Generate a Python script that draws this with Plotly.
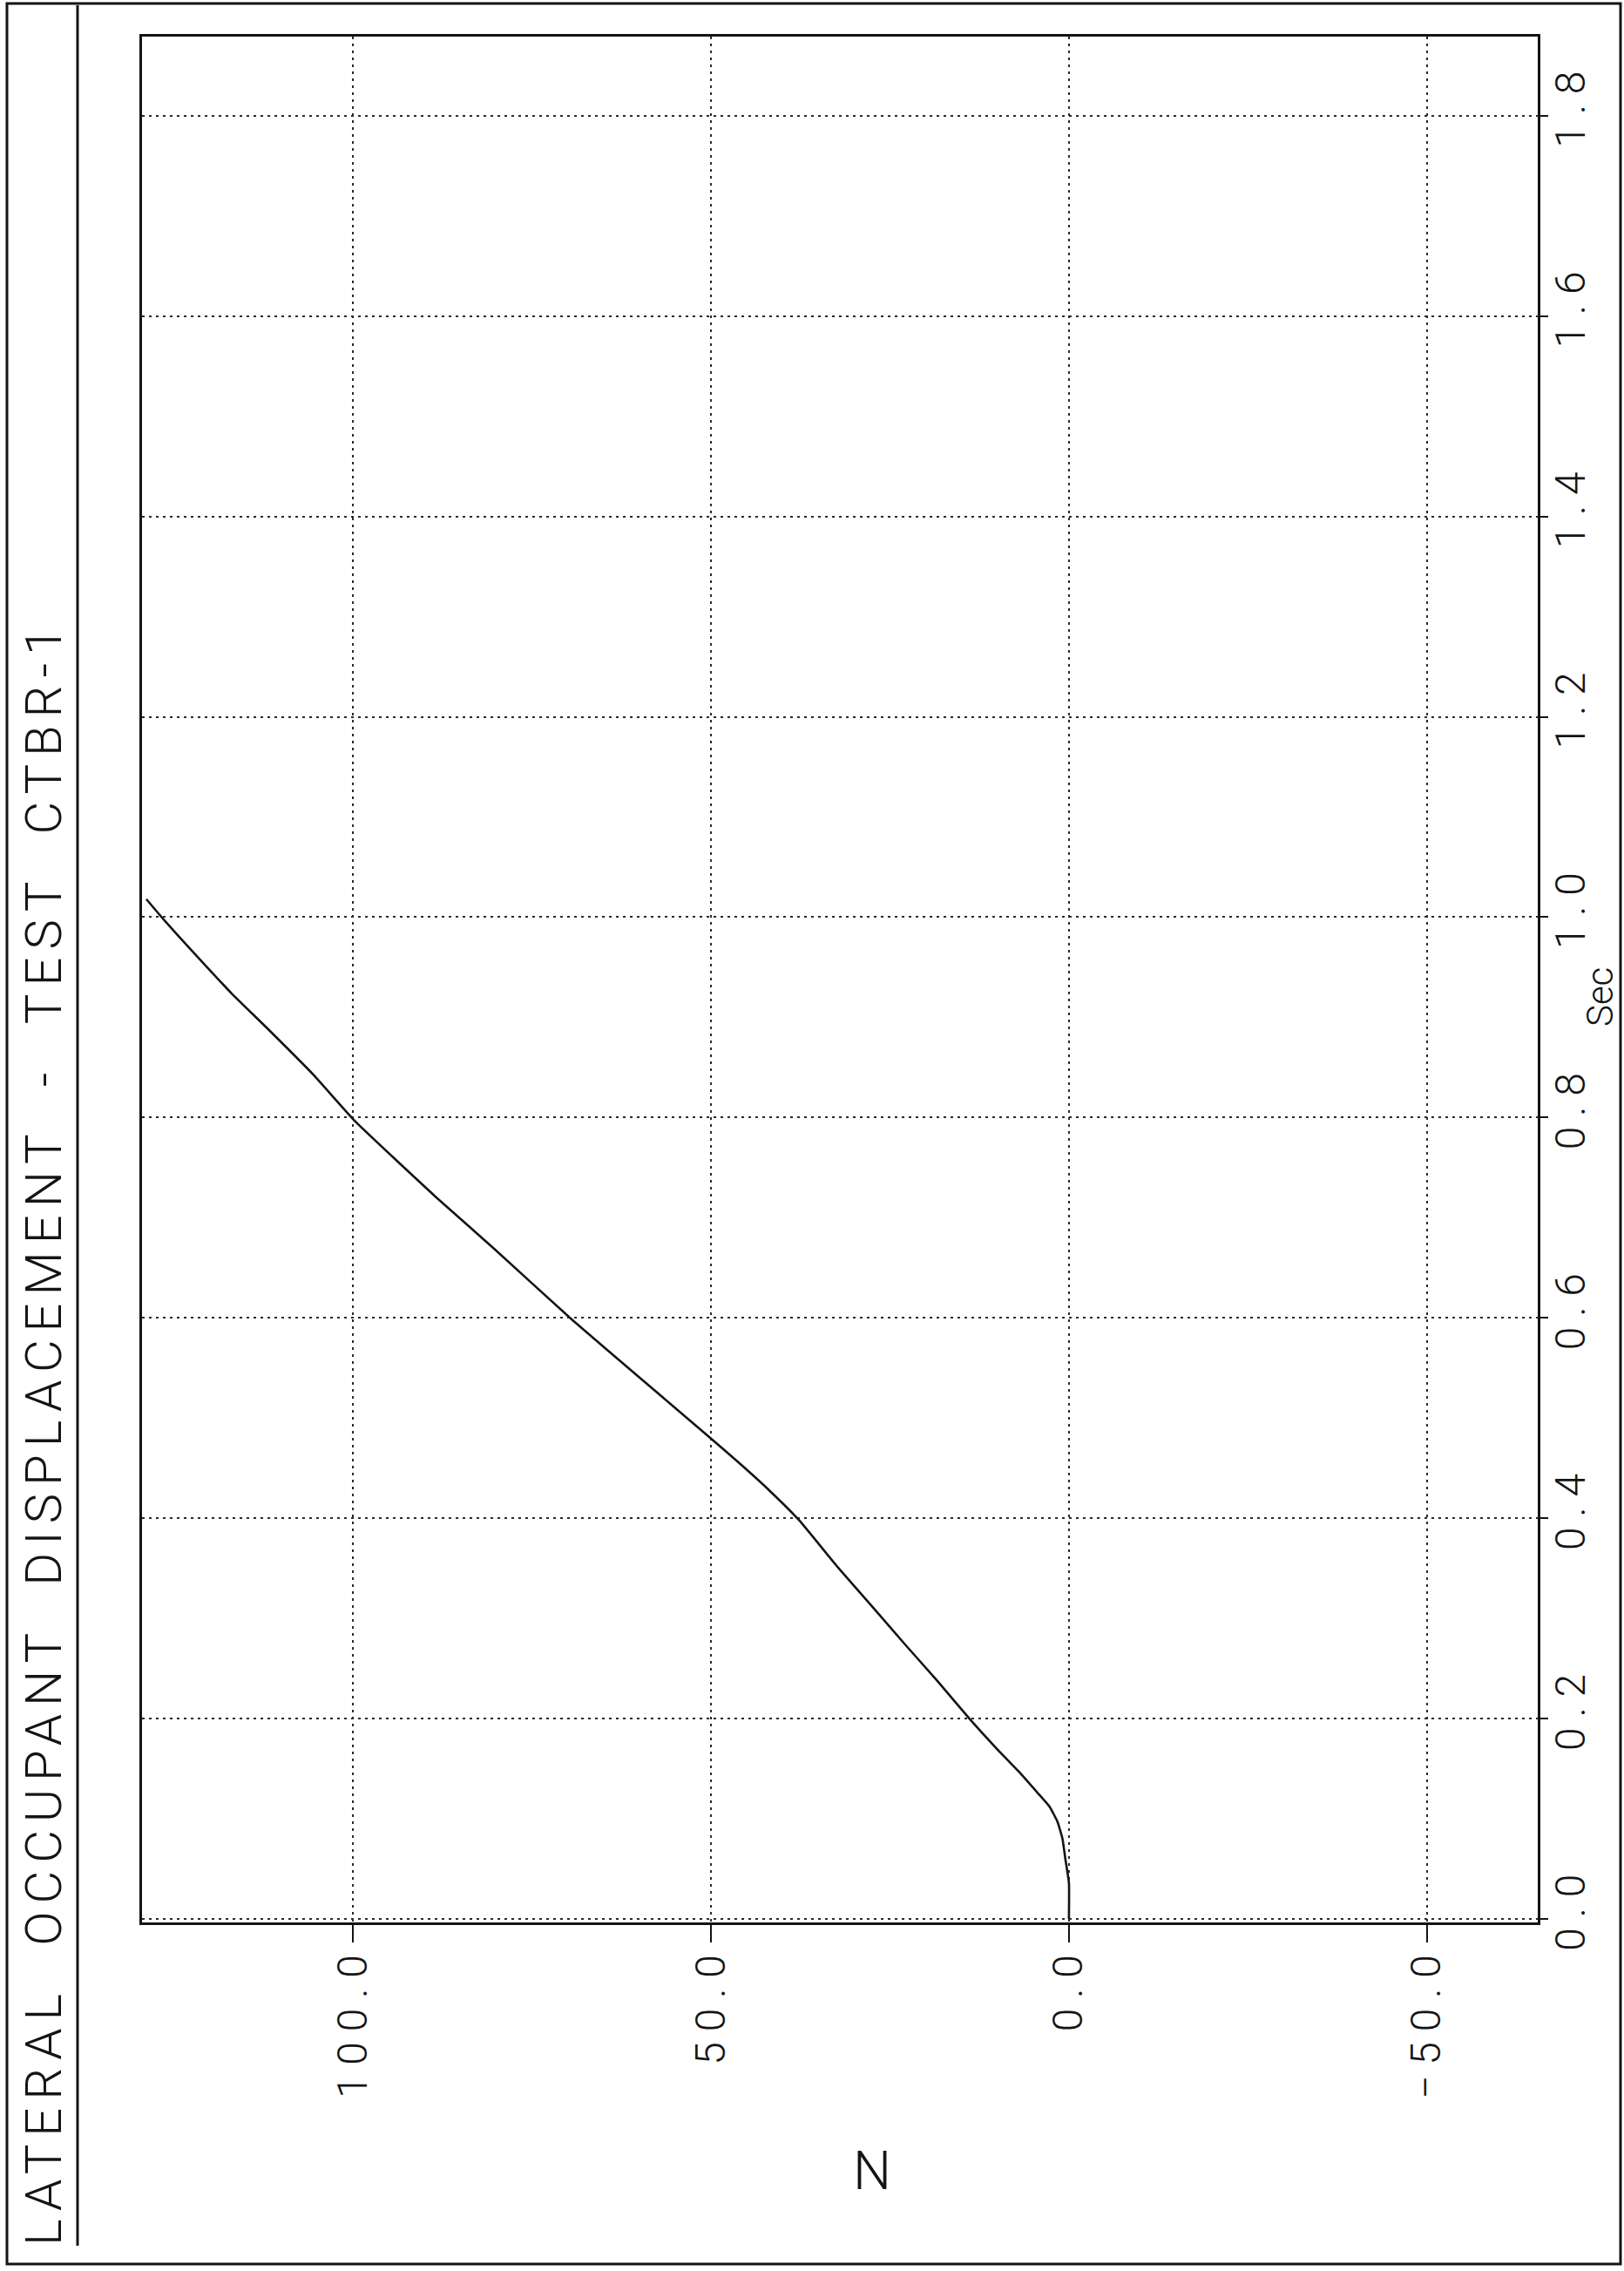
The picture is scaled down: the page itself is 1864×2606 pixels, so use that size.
import plotly.graph_objects as go

# Lateral occupant displacement vs. time, test CTBR-1 (page drawn in landscape)
time_s = [0.000, 0.036, 0.060, 0.080, 0.097, 0.112, 0.126, 0.147, 0.170, 0.199,
          0.237, 0.274, 0.312, 0.352, 0.398, 0.428, 0.454, 0.482, 0.538, 0.598,
          0.669, 0.721, 0.796, 0.843, 0.889, 0.924, 0.967, 0.997, 1.018]
displacement = [0.0, 0.0, 0.5, 0.9, 1.6, 2.7, 4.4, 7.0, 10.1, 13.8,
                18.3, 22.9, 27.5, 32.4, 37.7, 41.9, 45.9, 50.4, 59.6, 69.4,
                80.3, 88.5, 99.7, 105.6, 112.0, 117.0, 122.6, 126.4, 128.9]

disp_ticks = [100, 50, 0, -50]
disp_tick_labels = ["100.0", "50.0", "0.0", "\u221250.0"]
time_ticks = [0.0, 0.2, 0.4, 0.6, 0.8, 1.0, 1.2, 1.4, 1.6, 1.8]
time_tick_labels = ["0.0", "0.2", "0.4", "0.6", "0.8", "1.0", "1.2", "1.4", "1.6", "1.8"]

title_text = "LATERAL OCCUPANT DISPLACEMENT - TEST CTBR-1"

W, H = 1864, 2606
PL, PR, PT, PB = 163, 1765, 42, 2206
INK = "#141414"
FONT = "Roboto"


def px_x(px):
    return (px - PL) / (PR - PL)


def px_y(py):
    return (PB - py) / (PB - PT)


def spread(s):
    # plotter-style wide character pitch
    return " ".join(s)


fig = go.Figure()
fig.add_trace(go.Scatter(
    x=displacement, y=time_s, mode="lines",
    line=dict(color=INK, width=2.6, shape="spline", smoothing=0.4),
    hoverinfo="skip",
))

axis_common = dict(
    showline=True, linecolor=INK, linewidth=3, mirror=True,
    showgrid=True, gridcolor="#2a2a2a", gridwidth=2, griddash="3px,5px",
    zeroline=False, ticks="outside", tickcolor=INK, tickwidth=2,
    tickangle=-90,
    tickfont=dict(family=FONT, size=48, color=INK, weight=300),
)

fig.update_xaxes(
    range=[129.5, -65.5], tickmode="array", tickvals=disp_ticks,
    ticktext=[spread(t) for t in disp_tick_labels], ticklen=20,
    ticklabelstandoff=-5,
    **axis_common,
)
fig.update_yaxes(
    side="right", range=[-0.0035, 1.879], tickmode="array", tickvals=time_ticks,
    ticktext=[spread(t) for t in time_tick_labels], ticklen=9,
    ticklabelstandoff=-16,
    **axis_common,
)

fig.update_layout(
    width=W, height=H,
    margin=dict(l=PL, r=W - PR, t=PT, b=H - PB),
    plot_bgcolor="white", paper_bgcolor="white",
    showlegend=False,
    font=dict(family=FONT, color=INK),
    shapes=[
        # page frame
        dict(type="rect", xref="paper", yref="paper",
             x0=px_x(8), x1=px_x(1860), y0=px_y(2598), y1=px_y(4),
             line=dict(color=INK, width=3)),
        # rule beside the title strip
        dict(type="line", xref="paper", yref="paper",
             x0=px_x(89), x1=px_x(89), y0=px_y(2577), y1=px_y(6),
             line=dict(color=INK, width=3)),
    ],
    annotations=[
        dict(text='<span style="letter-spacing:9px">%s</span>'
                  % title_text.replace(" ", " \u00a0"),
             xref="paper", yref="paper", x=px_x(50), y=px_y(1644),
             xanchor="center", yanchor="middle", textangle=-90, showarrow=False,
             font=dict(family=FONT, size=58, color=INK, weight=300)),
        dict(text="Sec", xref="paper", yref="paper", x=px_x(1836), y=px_y(1144),
             xanchor="center", yanchor="middle", textangle=-90, showarrow=False,
             font=dict(family=FONT, size=42, color=INK, weight=300)),
        dict(text="N", xref="paper", yref="paper", x=px_x(1001), y=px_y(2490),
             xanchor="center", yanchor="middle", showarrow=False,
             font=dict(family=FONT, size=62, color=INK, weight=300)),
    ],
)

fig.write_html("out.html")
